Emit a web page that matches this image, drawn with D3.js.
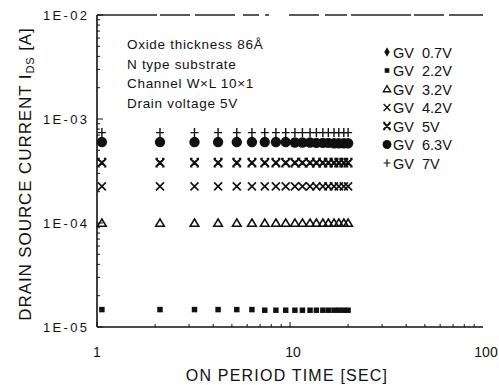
<!DOCTYPE html>
<html>
<head>
<meta charset="utf-8">
<script src="https://cdn.jsdelivr.net/npm/d3@7"></script>
<style>
  body { margin: 0; background: #fff; }
  text { font-family: "Liberation Sans", Arial, sans-serif; fill: #111; }
</style>
</head>
<body>
<svg id="chart" width="499" height="385"></svg>
<script>
// on-period times (sec)
const times = [1.06, 2.12, 3.2, 4.24, 5.3, 6.35, 7.4, 8.45, 9.5, 10.6, 11.6, 12.7, 13.7, 14.8, 15.8, 16.9, 17.9, 19.0, 20.0];

// drain current per gate voltage (A)
const gv7 = [7.4e-4, 7.4e-4, 7.4e-4, 7.4e-4, 7.4e-4, 7.4e-4, 7.4e-4, 7.4e-4, 7.4e-4, 7.4e-4, 7.4e-4, 7.4e-4, 7.4e-4, 7.4e-4, 7.4e-4, 7.4e-4, 7.4e-4, 7.4e-4, 7.4e-4];
const gv63 = [6.0e-4, 6.0e-4, 6.0e-4, 6.0e-4, 6.0e-4, 6.0e-4, 6.0e-4, 6.0e-4, 6.0e-4, 5.95e-4, 5.95e-4, 5.95e-4, 5.9e-4, 5.9e-4, 5.9e-4, 5.85e-4, 5.85e-4, 5.85e-4, 5.85e-4];
const gv5 = [3.8e-4, 3.8e-4, 3.8e-4, 3.8e-4, 3.8e-4, 3.8e-4, 3.8e-4, 3.8e-4, 3.8e-4, 3.8e-4, 3.8e-4, 3.8e-4, 3.8e-4, 3.8e-4, 3.8e-4, 3.8e-4, 3.8e-4, 3.8e-4, 3.8e-4];
const gv42 = [2.25e-4, 2.25e-4, 2.25e-4, 2.25e-4, 2.25e-4, 2.25e-4, 2.25e-4, 2.25e-4, 2.25e-4, 2.25e-4, 2.25e-4, 2.25e-4, 2.25e-4, 2.25e-4, 2.25e-4, 2.25e-4, 2.25e-4, 2.25e-4, 2.25e-4];
const gv32 = [1.0e-4, 1.0e-4, 1.0e-4, 1.0e-4, 1.0e-4, 1.0e-4, 1.0e-4, 1.0e-4, 1.0e-4, 1.0e-4, 1.0e-4, 1.0e-4, 1.0e-4, 1.0e-4, 1.0e-4, 1.0e-4, 1.0e-4, 1.0e-4, 1.0e-4];
const gv22 = [1.47e-5, 1.47e-5, 1.47e-5, 1.47e-5, 1.47e-5, 1.47e-5, 1.45e-5, 1.45e-5, 1.45e-5, 1.45e-5, 1.45e-5, 1.45e-5, 1.45e-5, 1.45e-5, 1.45e-5, 1.45e-5, 1.45e-5, 1.45e-5, 1.45e-5];

const legendLabels = ["GV  0.7V", "GV  2.2V", "GV  3.2V", "GV  4.2V", "GV  5V", "GV  6.3V", "GV  7V"];
const notes = ["Oxide thickness 86\u00C5", "N type substrate", "Channel W\u00D7L 10\u00D71", "Drain voltage 5V"];
const yTicks = [1e-5, 1e-4, 1e-3, 1e-2];
const yTickLabels = ["1E-05", "1E-04", "1E-03", "1E-02"];
const xTicks = [1, 10, 100];

const svg = d3.select('#chart');
const plotLeft = 97, plotRight = 483, plotTop = 15, plotBottom = 327;

const x = d3.scaleLog().domain([1, 100]).range([plotLeft, plotRight]);
const y = d3.scaleLog().domain([1e-5, 1e-2]).range([plotBottom, plotTop]);

// marker painters
function marker(g, kind) {
    if (kind === 'diamond') {
        g.append('path').attr('d', d3.symbol(d3.symbolDiamond, 36)()).attr('fill', '#111');
    } else if (kind === 'square') {
        g.append('path').attr('d', d3.symbol(d3.symbolSquare, 30)()).attr('fill', '#111');
    } else if (kind === 'triangle') {
        g.append('path').attr('d', 'M0,-4L4.3,3.2L-4.3,3.2Z').attr('fill', 'none').attr('stroke', '#111').attr('stroke-width', 1.6);
    } else if (kind === 'cross') {
        g.append('path').attr('d', 'M-4,-4L4,4M-4,4L4,-4').attr('stroke', '#111').attr('stroke-width', 1.6);
    } else if (kind === 'star') {
        g.append('path').attr('d', 'M-3.5,-3.5L3.5,3.5M-3.5,3.5L3.5,-3.5M-4.5,-3.8L-2,-3.8M2,-3.8L4.5,-3.8M-4.5,3.8L-2,3.8M2,3.8L4.5,3.8')
            .attr('stroke', '#111').attr('stroke-width', 2.2);
    } else if (kind === 'circle') {
        g.append('circle').attr('r', 5.2).attr('fill', '#111');
    } else if (kind === 'plus') {
        g.append('path').attr('d', 'M-4,0L4,0M0,-4.5L0,4.5').attr('stroke', '#111').attr('stroke-width', 1.4);
    }
}

const series = [
    { kind: 'square', values: gv22 },
    { kind: 'triangle', values: gv32 },
    { kind: 'cross', values: gv42 },
    { kind: 'star', values: gv5 },
    { kind: 'circle', values: gv63 },
    { kind: 'plus', values: gv7 }
];

// axes lines
svg.append('line').attr('x1', plotLeft).attr('x2', plotLeft).attr('y1', plotTop).attr('y2', plotBottom)
    .attr('stroke', '#111').attr('stroke-width', 1.6);
svg.append('line').attr('x1', plotLeft).attr('x2', plotRight).attr('y1', plotBottom).attr('y2', plotBottom)
    .attr('stroke', '#111').attr('stroke-width', 1.6);
svg.append('line').attr('x1', plotLeft).attr('x2', plotRight).attr('y1', plotTop).attr('y2', plotTop)
    .attr('stroke', '#222').attr('stroke-width', 1.3).attr('stroke-dasharray', '60,3,30,5,40,8,16,6,4,20,30,6,22,4');

// minor and major ticks (inside)
const isMajor = d => Math.abs(Math.log10(d) - Math.round(Math.log10(d))) < 1e-6;
const yMinor = [];
for (let e = -5; e < -2; e++) for (let m = 1; m < 10; m++) yMinor.push(m * Math.pow(10, e));
yMinor.push(1e-2);
svg.selectAll('.ytick').data(yMinor).enter().append('line')
    .attr('x1', plotLeft).attr('x2', d => plotLeft + (isMajor(d) ? 6 : 3))
    .attr('y1', d => y(d)).attr('y2', d => y(d)).attr('stroke', '#111').attr('stroke-width', 1);

const xMinor = [];
for (let e = 0; e < 2; e++) for (let m = 1; m < 10; m++) xMinor.push(m * Math.pow(10, e));
svg.selectAll('.xtick').data(xMinor).enter().append('line')
    .attr('x1', d => x(d)).attr('x2', d => x(d))
    .attr('y1', plotBottom).attr('y2', d => plotBottom - (isMajor(d) ? 5 : 3))
    .attr('stroke', '#111').attr('stroke-width', 1);

// tick labels
svg.selectAll('.ylab').data(yTicks).enter().append('text')
    .attr('x', 87).attr('y', d => y(d) + 5).attr('text-anchor', 'end')
    .attr('font-size', '13px').attr('textLength', 44)
    .text((d, i) => yTickLabels[i]);
svg.selectAll('.xlab').data(xTicks).enter().append('text')
    .attr('x', d => x(d) + (d === 1 ? 0 : 3)).attr('y', 357).attr('text-anchor', 'middle')
    .attr('font-size', '14px')
    .text(d => d);

// axis titles
svg.append('text').attr('x', 287).attr('y', 381).attr('text-anchor', 'middle')
    .attr('font-size', '16px').attr('letter-spacing', '1.2px').text('ON PERIOD TIME [SEC]');
const yt = svg.append('text').attr('transform', 'translate(31,174) rotate(-90)')
    .attr('text-anchor', 'middle').attr('font-size', '17px').attr('letter-spacing', '0.9px');
yt.append('tspan').text('DRAIN SOURCE CURRENT I');
yt.append('tspan').attr('font-size', '11px').attr('dy', 3).text('DS');
yt.append('tspan').attr('dy', -3).text(' [A]');

// notes
svg.selectAll('.note').data(notes).enter().append('text')
    .attr('x', 127).attr('y', (d, i) => 49 + i * 19.7)
    .attr('font-size', '13.5px').attr('letter-spacing', '0.7px').text(d => d);

// data points
series.forEach(s => {
    const g = svg.append('g');
    g.selectAll('g').data(times).enter().append('g')
        .attr('transform', (d, i) => `translate(${x(d)},${y(s.values[i])})`)
        .each(function () { marker(d3.select(this), s.kind); });
});

// legend
const legendKinds = ['diamond', 'square', 'triangle', 'cross', 'star', 'circle', 'plus'];
const lg = svg.selectAll('.leg').data(legendLabels).enter().append('g')
    .attr('transform', (d, i) => `translate(387,${52 + i * 18.5})`);
lg.each(function (d, i) {
    const m = d3.select(this).append('g').attr('transform', 'scale(0.85)');
    marker(m, legendKinds[i]);
});
lg.append('text').attr('x', 6).attr('y', 5.5).attr('font-size', '14.5px')
    .style('white-space', 'pre').text(d => d);
</script>
</body>
</html>
